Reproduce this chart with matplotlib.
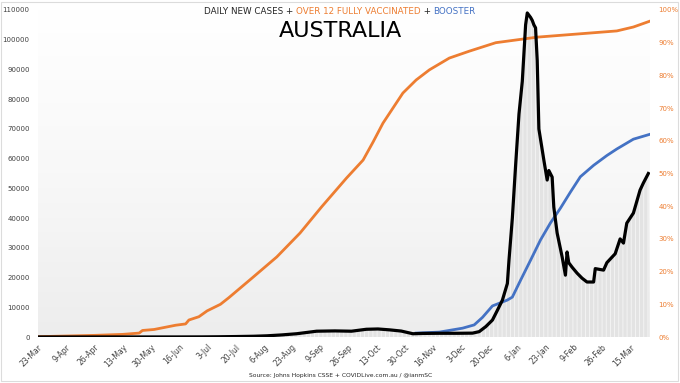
import numpy as np
import pandas as pd
import matplotlib
matplotlib.use("Agg")
import matplotlib.pyplot as plt
from matplotlib.patches import Rectangle
from matplotlib.colors import LinearSegmentedColormap

# ---------------- data ----------------
case_dates = ["2021-03-23", "2021-04-15", "2021-05-15", "2021-06-15", "2021-06-30",
              "2021-07-10", "2021-07-20", "2021-07-31", "2021-08-08", "2021-08-17",
              "2021-08-26", "2021-09-07", "2021-09-18", "2021-09-28", "2021-10-07",
              "2021-10-14", "2021-10-21", "2021-10-28", "2021-11-04", "2021-11-10",
              "2021-11-20", "2021-12-01", "2021-12-10", "2021-12-14", "2021-12-18",
              "2021-12-22", "2021-12-25", "2021-12-28", "2021-12-31", "2022-01-01",
              "2022-01-03", "2022-01-05", "2022-01-07", "2022-01-09", "2022-01-11",
              "2022-01-12", "2022-01-14", "2022-01-15", "2022-01-16", "2022-01-17",
              "2022-01-18", "2022-01-19", "2022-01-22", "2022-01-24", "2022-01-25",
              "2022-01-27", "2022-01-28", "2022-01-30", "2022-02-02", "2022-02-04",
              "2022-02-05", "2022-02-06", "2022-02-08", "2022-02-11", "2022-02-14",
              "2022-02-17", "2022-02-21", "2022-02-22", "2022-02-27", "2022-03-01",
              "2022-03-06", "2022-03-09", "2022-03-11", "2022-03-13", "2022-03-17",
              "2022-03-21", "2022-03-23", "2022-03-26"]
daily_cases = [10, 10, 15, 20, 40,
               80, 150, 250, 400, 700,
               1100, 1950, 2050, 1950, 2600,
               2700, 2400, 2000, 1100, 1200,
               1250, 1250, 1300, 1800, 3500,
               5700, 9000, 12400, 18000, 26000,
               40000, 58000, 75000, 86000, 105000,
               109000, 107500, 106500, 105000, 104000,
               93000, 70000, 59500, 52800, 56000,
               53800, 43700, 35000, 27000, 20800,
               28600, 25000, 23500, 21500, 19800,
               18500, 18500, 23000, 22500, 25000,
               28000, 33000, 31600, 38300, 41700,
               49400, 51800, 55000]

vax_dates = ["2021-03-23", "2021-04-09", "2021-04-26", "2021-05-13", "2021-05-23",
             "2021-05-25", "2021-06-01", "2021-06-14", "2021-06-20", "2021-06-22",
             "2021-06-28", "2021-07-03", "2021-07-11", "2021-07-16", "2021-07-30",
             "2021-08-14", "2021-08-28", "2021-09-10", "2021-09-25", "2021-10-05",
             "2021-10-11", "2021-10-17", "2021-10-23", "2021-10-29", "2021-11-06",
             "2021-11-14", "2021-11-26", "2021-12-08", "2021-12-24", "2022-01-18",
             "2022-03-07", "2022-03-17", "2022-03-27"]
vax_pct = [0.1, 0.3, 0.5, 0.8, 1.2,
           2.0, 2.3, 3.6, 4.0, 5.2,
           6.2, 8.0, 10.0, 12.0, 18.0,
           24.5, 31.8, 39.8, 48.6, 54.1,
           59.6, 65.4, 70.0, 74.6, 78.6,
           81.7, 85.3, 87.4, 90.0, 91.7,
           93.6, 94.8, 96.6]

boost_dates = ["2021-11-06", "2021-11-20", "2021-12-04", "2021-12-11", "2021-12-16",
               "2021-12-22", "2021-12-31", "2022-01-03", "2022-01-08", "2022-01-14",
               "2022-01-20", "2022-01-26", "2022-02-01", "2022-02-07", "2022-02-13",
               "2022-02-21", "2022-03-01", "2022-03-07", "2022-03-17", "2022-03-27"]
boost_pct = [1.2, 1.5, 2.7, 3.7, 6.0,
             9.5, 11.3, 12.2, 17.4, 23.5,
             29.7, 34.9, 39.4, 44.3, 49.0,
             52.5, 55.5, 57.5, 60.5, 62.0]

tick_labels = ["23-Mar", "9-Apr", "26-Apr", "13-May", "30-May", "16-Jun", "3-Jul",
               "20-Jul", "6-Aug", "23-Aug", "9-Sep", "26-Sep", "13-Oct", "30-Oct",
               "16-Nov", "3-Dec", "20-Dec", "6-Jan", "23-Jan", "9-Feb", "26-Feb", "15-Mar"]

# ---------------- styling ----------------
ORANGE = "#ED7D31"
BLUE = "#4472C4"
DARK = "#404040"
plt.rcParams["font.family"] = ["DejaVu Sans"]
plt.rcParams["hatch.linewidth"] = 0.6

W, H = 680, 383
fig = plt.figure(figsize=(W / 100, H / 100), dpi=100)
fig.patch.set_facecolor("white")
fig.patches.append(Rectangle((0.002, 0.004), 0.995, 0.992, transform=fig.transFigure,
                             fill=False, edgecolor="#dcdcdc", linewidth=0.8))

L, R, T, B = 38, 650, 10, 337
rect = [L / W, 1 - B / H, (R - L) / W, (B - T) / H]

# background gradient axes
bg = fig.add_axes(rect, zorder=0)
grad = np.linspace(0, 1, 256).reshape(-1, 1)
cmap = LinearSegmentedColormap.from_list("bg", ["#ededed", "#f8f8f8", "#ffffff"])
bg.imshow(grad, extent=[0, 1, 0, 1], cmap=cmap, aspect="auto", origin="lower")
bg.set_axis_off()

ax2 = fig.add_axes(rect, zorder=1)   # percentages
ax = fig.add_axes(rect, zorder=2)    # daily cases (top)
ax2.yaxis.tick_right()
ax2.xaxis.set_visible(False)

cd = pd.to_datetime(case_dates)
vd = pd.to_datetime(vax_dates)
bd = pd.to_datetime(boost_dates)

x0 = pd.Timestamp("2021-03-23")
x1 = pd.Timestamp("2022-03-27")
for a in (ax, ax2):
    a.set_xlim(x0, x1)
    a.patch.set_visible(False)
    for s in a.spines.values():
        s.set_visible(False)
    a.tick_params(length=0)
ax.set_ylim(0, 110000)
ax2.set_ylim(0, 100)

# light striped fill under daily cases (drawn on the lower axes so lines sit above)
ax2_fill_ax = ax2
ax_fill = fig.add_axes(rect, zorder=0.5, sharex=ax)
ax_fill.set_ylim(0, 110000)
ax_fill.set_axis_off()
ax_fill.fill_between(cd, 0, daily_cases, facecolor="#e3e3e3", edgecolor="#f6f6f6",
                     hatch="||||", linewidth=0)

ax.plot(cd, daily_cases, color="black", lw=2.3, solid_joinstyle="round")
ax2.plot(vd, vax_pct, color=ORANGE, lw=2.0)
ax2.plot(bd, boost_pct, color=BLUE, lw=2.0)

ax.set_yticks(np.arange(0, 110001, 10000))
ax.set_yticklabels([f"{v}" for v in range(0, 110001, 10000)], fontsize=5, color=DARK)
ax.tick_params(axis="y", pad=6)
ax2.set_yticks(np.arange(0, 101, 10))
ax2.set_yticklabels([f"{v}%" for v in range(0, 101, 10)], fontsize=5, color=ORANGE)
ax2.tick_params(axis="y", pad=6)

ticks = pd.date_range("2021-03-23", periods=len(tick_labels), freq="17D")
ax.set_xticks(ticks)
ax.set_xticklabels(tick_labels, rotation=45, ha="right", va="top",
                   rotation_mode="anchor", fontsize=5.5, color=DARK)
ax.tick_params(axis="x", pad=4)
ax.set_xlim(x0, x1)

# ---------------- titles ----------------
parts = [("DAILY NEW CASES + ", "#262626"), ("OVER 12 FULLY VACCINATED", ORANGE),
         (" + ", "#262626"), ("BOOSTER", BLUE)]
texts = [fig.text(0, 1 - 11 / H, s, color=c, fontsize=6.3, va="center", ha="left")
         for s, c in parts]
fig.canvas.draw()
rend = fig.canvas.get_renderer()
widths = [t.get_window_extent(rend).width for t in texts]
xs = 340 - sum(widths) / 2
for t, w in zip(texts, widths):
    t.set_x(xs / W)
    xs += w

fig.text(340 / W, 1 - 31 / H, "AUSTRALIA", fontsize=16, ha="center", va="center",
         color="black")
fig.text(341 / W, 1 - 376 / H, "Source: Johns Hopkins CSSE + COVIDLive.com.au / @ianmSC",
         fontsize=4.3, ha="center", va="center", color="#262626")

fig.savefig("out.png", dpi=100)
